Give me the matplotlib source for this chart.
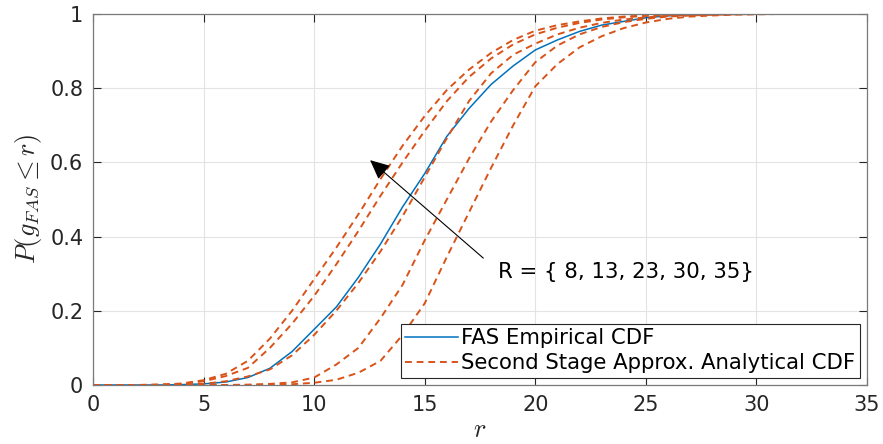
import numpy as np
import matplotlib
matplotlib.use('Agg')
import matplotlib.pyplot as plt

plt.rcParams['mathtext.fontset'] = 'cm'

# x grid (r)
r = np.arange(0, 36)

# empirical CDF (blue)
fas_emp = [0, 0, 0, 0, 0.001, 0.003, 0.008, 0.02, 0.045, 0.09, 0.15, 0.21, 0.29, 0.38, 0.48, 0.57,
           0.67, 0.745, 0.81, 0.86, 0.903, 0.93, 0.953, 0.97, 0.98, 0.99, 0.995, 0.997, 0.999, 1,
           1, 1, 1, 1, 1, 1]

# analytical CDFs for the 5 values of R (orange dashed)
approx_a = [0, 0, 0, 0.001, 0.004, 0.013, 0.03, 0.065, 0.125, 0.2, 0.285, 0.37, 0.46, 0.555, 0.645, 0.725,
            0.795, 0.85, 0.895, 0.93, 0.955, 0.97, 0.98, 0.988, 0.993, 0.996, 0.998, 0.999, 1, 1,
            1, 1, 1, 1, 1, 1]
approx_b = [0, 0, 0, 0.001, 0.003, 0.01, 0.024, 0.046, 0.1, 0.165, 0.24, 0.325, 0.415, 0.51, 0.6, 0.685,
            0.765, 0.83, 0.88, 0.918, 0.945, 0.963, 0.976, 0.985, 0.991, 0.995, 0.997, 0.999, 1, 1,
            1, 1, 1, 1, 1, 1]
approx_c = [0, 0, 0, 0, 0.001, 0.003, 0.01, 0.023, 0.042, 0.08, 0.135, 0.2, 0.275, 0.36, 0.455, 0.56,
            0.665, 0.765, 0.84, 0.89, 0.92, 0.945, 0.963, 0.976, 0.985, 0.991, 0.995, 0.997, 0.999, 1,
            1, 1, 1, 1, 1, 1]
approx_d = [0, 0, 0, 0, 0, 0, 0, 0.001, 0.003, 0.007, 0.02, 0.055, 0.1, 0.18, 0.27, 0.39,
            0.5, 0.61, 0.71, 0.795, 0.87, 0.915, 0.945, 0.965, 0.978, 0.987, 0.993, 0.996, 0.998, 0.999,
            1, 1, 1, 1, 1, 1]
approx_e = [0, 0, 0, 0, 0, 0, 0, 0, 0.0005, 0.002, 0.006, 0.014, 0.033, 0.065, 0.135, 0.22,
            0.345, 0.465, 0.585, 0.7, 0.805, 0.865, 0.91, 0.94, 0.962, 0.977, 0.987, 0.993, 0.996, 0.998,
            0.999, 1, 1, 1, 1, 1]

BLUE = '#0072BD'
ORANGE = '#D95319'

fig = plt.figure(figsize=(8.83, 4.44), dpi=100)
ax = fig.add_axes([0.1053, 0.1329, 0.8766, 0.8356])

ax.plot(r, fas_emp, color=BLUE, lw=1.1, label='FAS Empirical CDF')
for i, y in enumerate([approx_a, approx_b, approx_c, approx_d, approx_e]):
    ax.plot(r, y, color=ORANGE, lw=1.4, ls=(0, (3.5, 2.5)),
            label='Second Stage Approx. Analytical CDF' if i == 0 else None)

ax.set_xlim(0, 35)
ax.set_ylim(0, 1)
ax.set_xticks(np.arange(0, 36, 5))
ax.set_yticks([0, 0.2, 0.4, 0.6, 0.8, 1])
ax.set_yticklabels(['0', '0.2', '0.4', '0.6', '0.8', '1'])
ax.grid(True, color='#e3e3e3', lw=0.8)
ax.set_axisbelow(True)
ax.tick_params(direction='in', length=5.5, width=0.8, top=True, right=True,
               labelsize=15, colors='#262626', pad=7)
for s in ax.spines.values():
    s.set_color('#7a7a7a')
    s.set_linewidth(0.9)

ax.set_xlabel('$r$', fontsize=19, color='#262626', labelpad=2)
ax.set_ylabel(r'$P(g_{FAS} \leq r)$', fontsize=19, color='#262626', labelpad=4)

ax.annotate('', xy=(12.53, 0.606), xytext=(17.65, 0.342),
            arrowprops=dict(arrowstyle='-|>,head_length=0.75,head_width=0.35', color='black',
                            lw=0.8, mutation_scale=16, shrinkA=0, shrinkB=0))
ax.text(18.33, 0.305, 'R = { 8, 13, 23, 30, 35}', fontsize=15.3, va='center', ha='left', color='black')

leg = ax.legend(loc='lower right', fontsize=15.3, frameon=True, fancybox=False, framealpha=1,
                edgecolor='#262626', borderpad=0.2, handlelength=2.5, handletextpad=0.15,
                labelspacing=0.25, borderaxespad=0.35)
leg.get_frame().set_linewidth(0.8)

fig.savefig('out.png', dpi=100)
